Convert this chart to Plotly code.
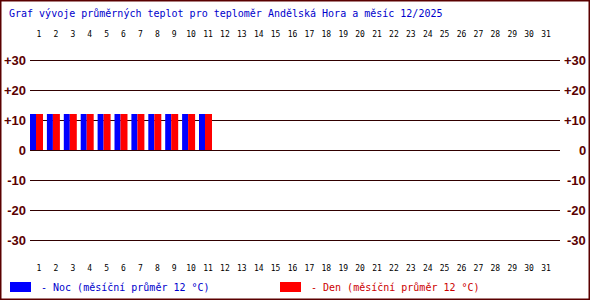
import plotly.graph_objects as go

days = list(range(1, 12))
noc = [12, 12, 12, 12, 12, 12, 12, 12, 12, 12, 12]
den = [12, 12, 12, 12, 12, 12, 12, 12, 12, 12, 12]
all_days = list(range(1, 32))
y_ticks = [30, 20, 10, 0, -10, -20, -30]
y_labels = ["+30", "+20", "+10", "0", "-10", "-20", "-30"]
title_text = "Graf vývoje průměrných teplot pro teploměr Andělská Hora a měsíc 12/2025"
noc_text = "- Noc (měsíční průměr 12 °C)"
den_text = "- Den (měsíční průměr 12 °C)"

W, H = 590, 300
L, R, T, B = 30, 30, 45, 45
pw, ph = W - L - R, H - T - B

def px(xp):
    return (xp - L) / pw

def py(yp):
    return (H - B - yp) / ph

mono = "DejaVu Sans Mono"
dark = "#5a0000"

fig = go.Figure()
fig.add_trace(go.Bar(x=days, y=noc, width=0.355, offset=-0.533,
                     marker=dict(color="#0000ff", line=dict(width=0)), showlegend=False))
fig.add_trace(go.Bar(x=days, y=den, width=0.414, offset=-0.178,
                     marker=dict(color="#ff0000", line=dict(width=0)), showlegend=False))
# invisible trace for top axis
fig.add_trace(go.Scatter(x=[all_days[0]], y=[0], xaxis="x2", mode="markers",
                         marker=dict(opacity=0), showlegend=False, hoverinfo="skip"))

xrange = [0.467, 0.467 + pw / 16.9]
tickfont = dict(family=mono, size=8, color="#000000")
fig.update_layout(
    width=W, height=H,
    margin=dict(l=L, r=R, t=T, b=B, pad=0, autoexpand=False),
    paper_bgcolor="#ffffff", plot_bgcolor="#ffffff",
    barmode="overlay",
    xaxis=dict(range=xrange, tickmode="array", tickvals=all_days, automargin=False,
               ticktext=[str(d) for d in all_days], showgrid=False, zeroline=False,
               showline=False, ticks="", tickfont=tickfont, ticklabelstandoff=7),
    xaxis2=dict(range=xrange, overlaying="x", side="top", tickmode="array", automargin=False,
                tickvals=all_days, ticktext=[str(d) for d in all_days],
                showgrid=False, zeroline=False, showline=False, ticks="",
                tickfont=tickfont, ticklabelstandoff=5),
    yaxis=dict(range=[-35, 35], tickmode="array", tickvals=y_ticks, ticktext=y_labels,
               automargin=False,
               showgrid=True, gridcolor="#300000", gridwidth=1, zeroline=False,
               showline=False, ticks="", ticklabelstandoff=3,
               tickfont=dict(family="Liberation Sans", size=13, color=dark, weight="bold")),
    showlegend=False,
)

annotations = []
for v, lab in zip(y_ticks, y_labels):
    annotations.append(dict(x=px(588), y=v, xref="paper", yref="y", text="<b>" + lab + "</b>",
                            showarrow=False, xanchor="right", yanchor="middle",
                            font=dict(family="Liberation Sans", size=13, color=dark)))
annotations.append(dict(x=px(7), y=py(13), xref="paper", yref="paper", text=title_text,
                        showarrow=False, xanchor="left", yanchor="middle",
                        font=dict(family=mono, size=10, color="#0000cc")))
annotations.append(dict(x=px(39), y=py(287), xref="paper", yref="paper", text=noc_text,
                        showarrow=False, xanchor="left", yanchor="middle",
                        font=dict(family=mono, size=10, color="#0000cc")))
annotations.append(dict(x=px(309), y=py(287), xref="paper", yref="paper", text=den_text,
                        showarrow=False, xanchor="left", yanchor="middle",
                        font=dict(family=mono, size=10, color="#cc0000")))
fig.update_layout(annotations=annotations)

shapes = [
    dict(type="rect", xref="paper", yref="paper", x0=px(10), x1=px(31), y0=py(292), y1=py(282),
         fillcolor="#0000ff", line=dict(width=0)),
    dict(type="rect", xref="paper", yref="paper", x0=px(280), x1=px(301), y0=py(292), y1=py(282),
         fillcolor="#ff0000", line=dict(width=0)),
    dict(type="rect", xref="paper", yref="paper", x0=px(0), x1=px(W), y0=py(H), y1=py(0),
         line=dict(color=dark, width=3), fillcolor="rgba(0,0,0,0)", layer="above"),
]
fig.update_layout(shapes=shapes)

fig.write_html("out.html")
